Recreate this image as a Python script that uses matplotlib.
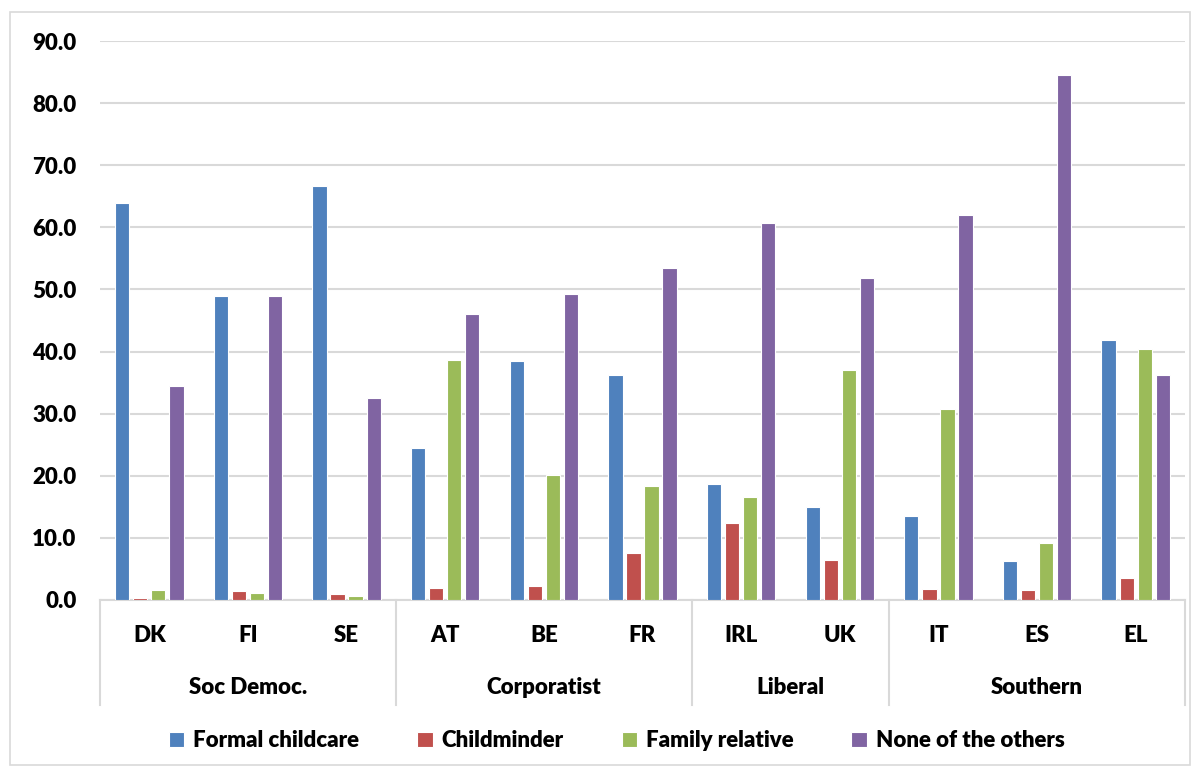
import numpy as np
import matplotlib.pyplot as plt
from matplotlib.patches import Rectangle

# data
countries = ["DK", "FI", "SE", "AT", "BE", "FR", "IRL", "UK", "IT", "ES", "EL"]
groups = ["Soc Democ.", "Corporatist", "Liberal", "Southern"]
group_sizes = [3, 3, 2, 3]

formal = [63.9, 48.9, 66.6, 24.4, 38.4, 36.2, 18.6, 15.0, 13.5, 6.2, 41.9]
childminder = [0.4, 1.5, 1.0, 2.0, 2.3, 7.5, 12.4, 6.4, 1.8, 1.6, 3.5]
family = [1.6, 1.2, 0.7, 38.6, 20.2, 18.4, 16.6, 37.1, 30.8, 9.2, 40.4]
none_others = [34.5, 48.9, 32.5, 46.1, 49.3, 53.5, 60.7, 51.9, 62.0, 84.5, 36.2]

series = [formal, childminder, family, none_others]
series_names = ["Formal childcare", "Childminder", "Family relative", "None of the others"]
colors = ["#4F81BD", "#C0504D", "#9BBB59", "#8064A2"]

plt.rcParams['font.family'] = ['Lato', 'DejaVu Sans']
plt.rcParams['font.weight'] = 'heavy'
fs = 16

fig = plt.figure(figsize=(12, 7.74), dpi=100)
ax = fig.add_axes([100 / 1200, 174 / 774, 1085 / 1200, 559 / 774])

x = np.arange(len(countries)) + 0.5
width = 0.145
step = 0.183
for k, (vals, name, col) in enumerate(zip(series, series_names, colors)):
    ax.bar(x + (k - 1.5) * step, vals, width, color=col, label=name,
           edgecolor='white', linewidth=0.8, zorder=3)

ax.set_xlim(0, len(countries))
ax.set_ylim(0, 90)
ax.set_yticks(np.arange(0, 91, 10))
ax.set_yticklabels([f"{v:.1f}" for v in np.arange(0, 91, 10)], fontsize=fs, fontweight='heavy')
ax.tick_params(axis='y', length=0, pad=17)
ax.tick_params(axis='x', length=0, labelbottom=False)
ax.grid(axis='y', color='#D9D9D9', linewidth=1.5, zorder=0)
for s in ['top', 'right', 'left']:
    ax.spines[s].set_visible(False)
ax.spines['bottom'].set_color('#D9D9D9')
ax.spines['bottom'].set_linewidth(1.5)

# category labels, two levels
trans = ax.get_xaxis_transform()
for xi, c in zip(x, countries):
    ax.text(xi, -0.063, c, transform=trans, ha='center', va='center',
            fontsize=fs, fontweight='heavy')

edges = np.concatenate([[0], np.cumsum(group_sizes)])
for i, g in enumerate(groups):
    mid = (edges[i] + edges[i + 1]) / 2
    ax.text(mid, -0.156, g, transform=trans, ha='center', va='center',
            fontsize=fs, fontweight='heavy')
for e in edges:
    ax.plot([e, e], [0, -0.188], transform=trans, color='#D9D9D9',
            linewidth=1.5, clip_on=False)

fig.legend(loc='center', bbox_to_anchor=(0.514, 0.043), ncol=4, frameon=False,
           prop={'size': fs, 'weight': 'heavy'}, handlelength=0.7, handleheight=0.7,
           handletextpad=0.4, columnspacing=2.6)

# outer chart border
fig.patches.append(Rectangle((10 / 1200, 9 / 774), 1180 / 1200, 753 / 774,
                             transform=fig.transFigure, fill=False,
                             edgecolor='#D9D9D9', linewidth=1.2))

fig.savefig("out.png", dpi=100)
